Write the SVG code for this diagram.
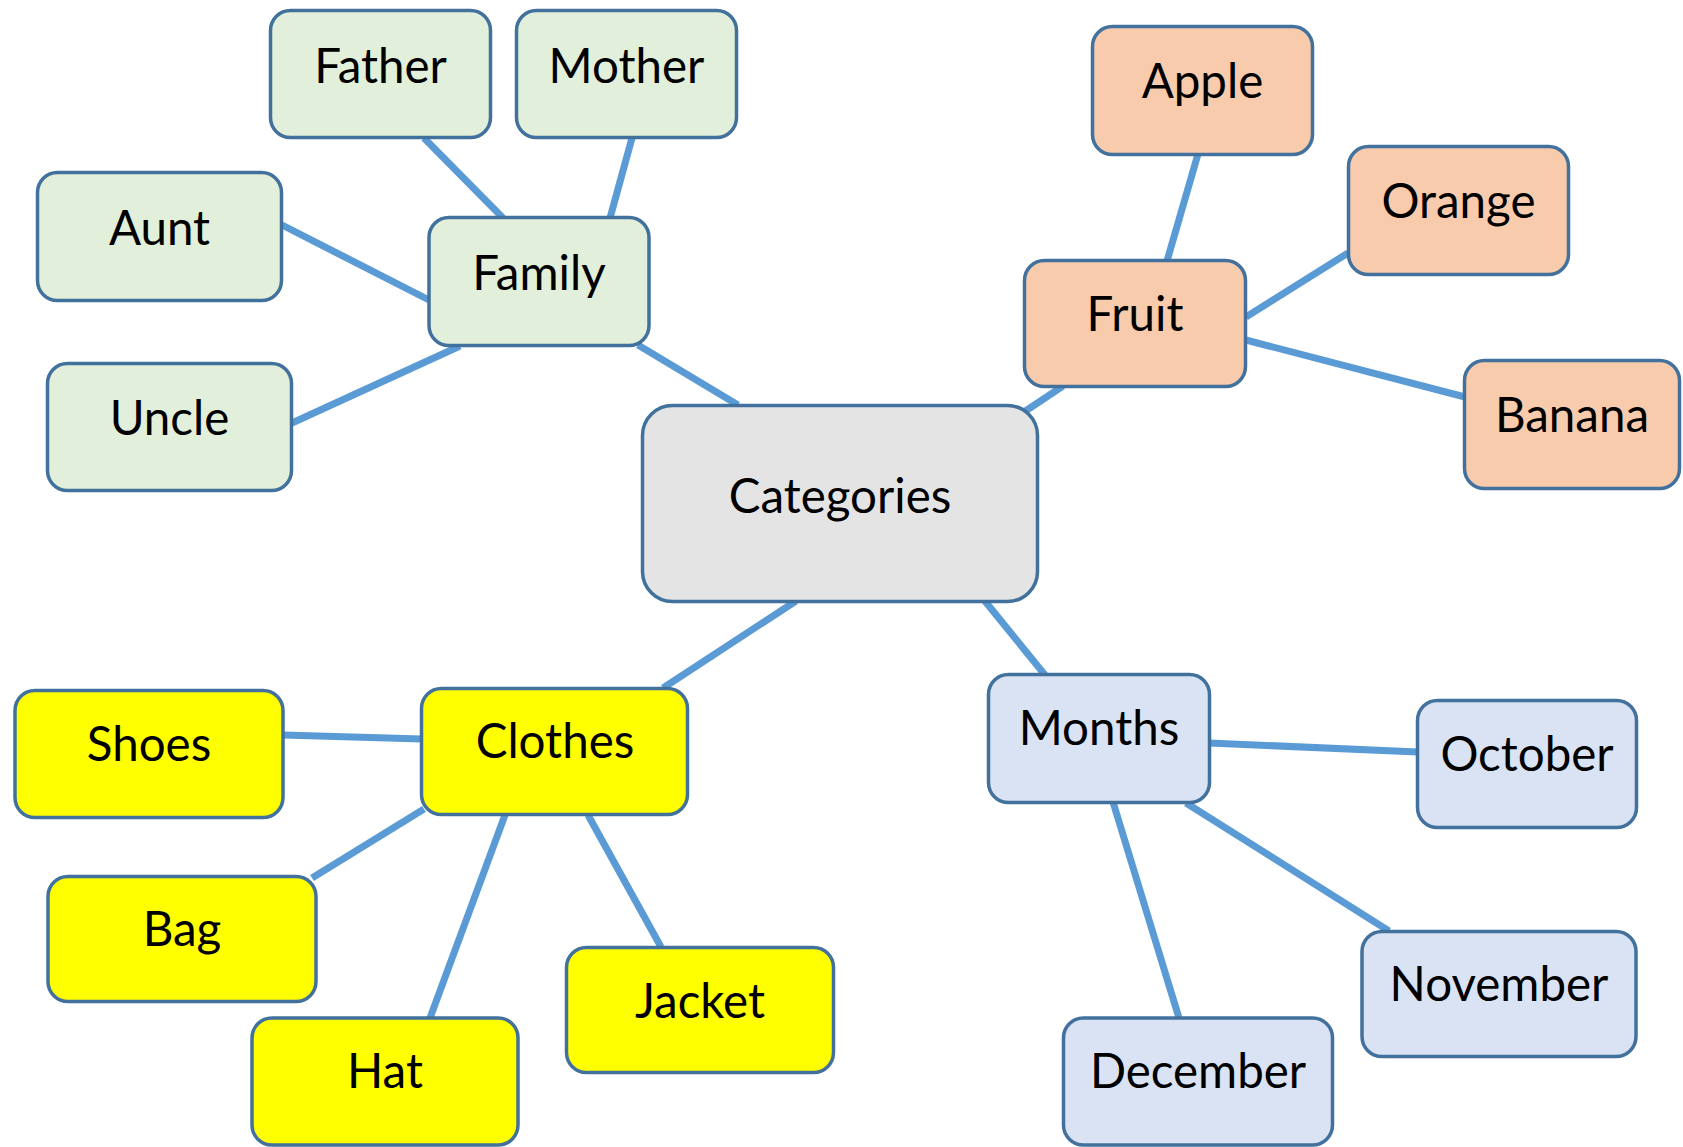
<svg xmlns="http://www.w3.org/2000/svg" width="1683" height="1147" viewBox="0 0 1683 1147">
<style>
.n{stroke:#41719C;stroke-width:3.5}
.g{fill:#E2EFDA}.o{fill:#F8CBAD}.y{fill:#FFFF00}.b{fill:#DAE3F3}.c{fill:#E4E4E4}
text{font-family:Lato,"Liberation Sans",sans-serif;font-size:47.5px;fill:#000;text-anchor:middle}
#connectors line{stroke:#5B9BD5;stroke-width:7}
</style>
<rect width="1683" height="1147" fill="#fff"/>
<g id="connectors">
<line x1="424" y1="138" x2="503" y2="218"/>
<line x1="632" y1="138" x2="610" y2="218"/>
<line x1="282" y1="225" x2="429" y2="300"/>
<line x1="292" y1="423" x2="460" y2="346"/>
<line x1="638" y1="345" x2="738" y2="405"/>
<line x1="1198" y1="154" x2="1167" y2="261"/>
<line x1="1348" y1="253" x2="1246" y2="317"/>
<line x1="1465" y1="397" x2="1246" y2="340"/>
<line x1="1063" y1="386" x2="1024" y2="412"/>
<line x1="796" y1="601" x2="663" y2="688"/>
<line x1="283" y1="735" x2="422" y2="739"/>
<line x1="312" y1="878" x2="424" y2="809"/>
<line x1="430" y1="1018" x2="505" y2="815"/>
<line x1="661" y1="947" x2="588" y2="815"/>
<line x1="984" y1="600" x2="1045" y2="675"/>
<line x1="1209" y1="743" x2="1418" y2="752"/>
<line x1="1186" y1="803" x2="1389" y2="931"/>
<line x1="1113" y1="802" x2="1179" y2="1018"/>
</g>
<g id="father"><rect class="n g" x="270.5" y="10.5" width="220" height="127" rx="20"/><text x="380.5" y="82.5">Father</text></g>
<g id="mother"><rect class="n g" x="516.5" y="10.5" width="220" height="127" rx="20"/><text x="626.5" y="82.5">Mother</text></g>
<g id="aunt"><rect class="n g" x="37.5" y="172.5" width="244" height="128" rx="20"/><text x="159.5" y="244.5">Aunt</text></g>
<g id="family"><rect class="n g" x="429" y="217.5" width="220" height="128" rx="20"/><text x="539" y="289.5">Family</text></g>
<g id="uncle"><rect class="n g" x="47.5" y="363.5" width="244" height="127" rx="20"/><text x="169.5" y="435">Uncle</text></g>
<g id="categories"><rect class="n c" x="642.5" y="405.5" width="395" height="196" rx="30"/><text x="840" y="513">Categories</text></g>
<g id="apple"><rect class="n o" x="1092.5" y="26.5" width="220" height="128" rx="20"/><text x="1202.5" y="98">Apple</text></g>
<g id="orange"><rect class="n o" x="1348.5" y="146.5" width="220" height="128" rx="20"/><text x="1458.5" y="218">Orange</text></g>
<g id="fruit"><rect class="n o" x="1024.5" y="260.5" width="221" height="126" rx="20"/><text x="1135" y="331">Fruit</text></g>
<g id="banana"><rect class="n o" x="1464.5" y="360.5" width="215" height="128" rx="20"/><text x="1572" y="432">Banana</text></g>
<g id="shoes"><rect class="n y" x="15" y="690.5" width="268" height="127" rx="20"/><text x="149" y="761">Shoes</text></g>
<g id="clothes"><rect class="n y" x="421.5" y="688.5" width="266" height="126" rx="20"/><text x="555" y="758">Clothes</text></g>
<g id="bag"><rect class="n y" x="48" y="876.5" width="268" height="125" rx="20"/><text x="182" y="946">Bag</text></g>
<g id="hat"><rect class="n y" x="252" y="1018" width="266" height="127" rx="20"/><text x="385" y="1088">Hat</text></g>
<g id="jacket"><rect class="n y" x="566.5" y="947.5" width="267" height="125" rx="20"/><text x="700" y="1018">Jacket</text></g>
<g id="months"><rect class="n b" x="988.5" y="674.5" width="221" height="128" rx="20"/><text x="1099" y="745">Months</text></g>
<g id="october"><rect class="n b" x="1417.5" y="700.5" width="219" height="127" rx="20"/><text x="1527" y="771">October</text></g>
<g id="november"><rect class="n b" x="1362" y="931.5" width="274" height="125" rx="20"/><text x="1499" y="1001">November</text></g>
<g id="december"><rect class="n b" x="1063.5" y="1018" width="269" height="127" rx="20"/><text x="1198" y="1088">December</text></g>
</svg>
